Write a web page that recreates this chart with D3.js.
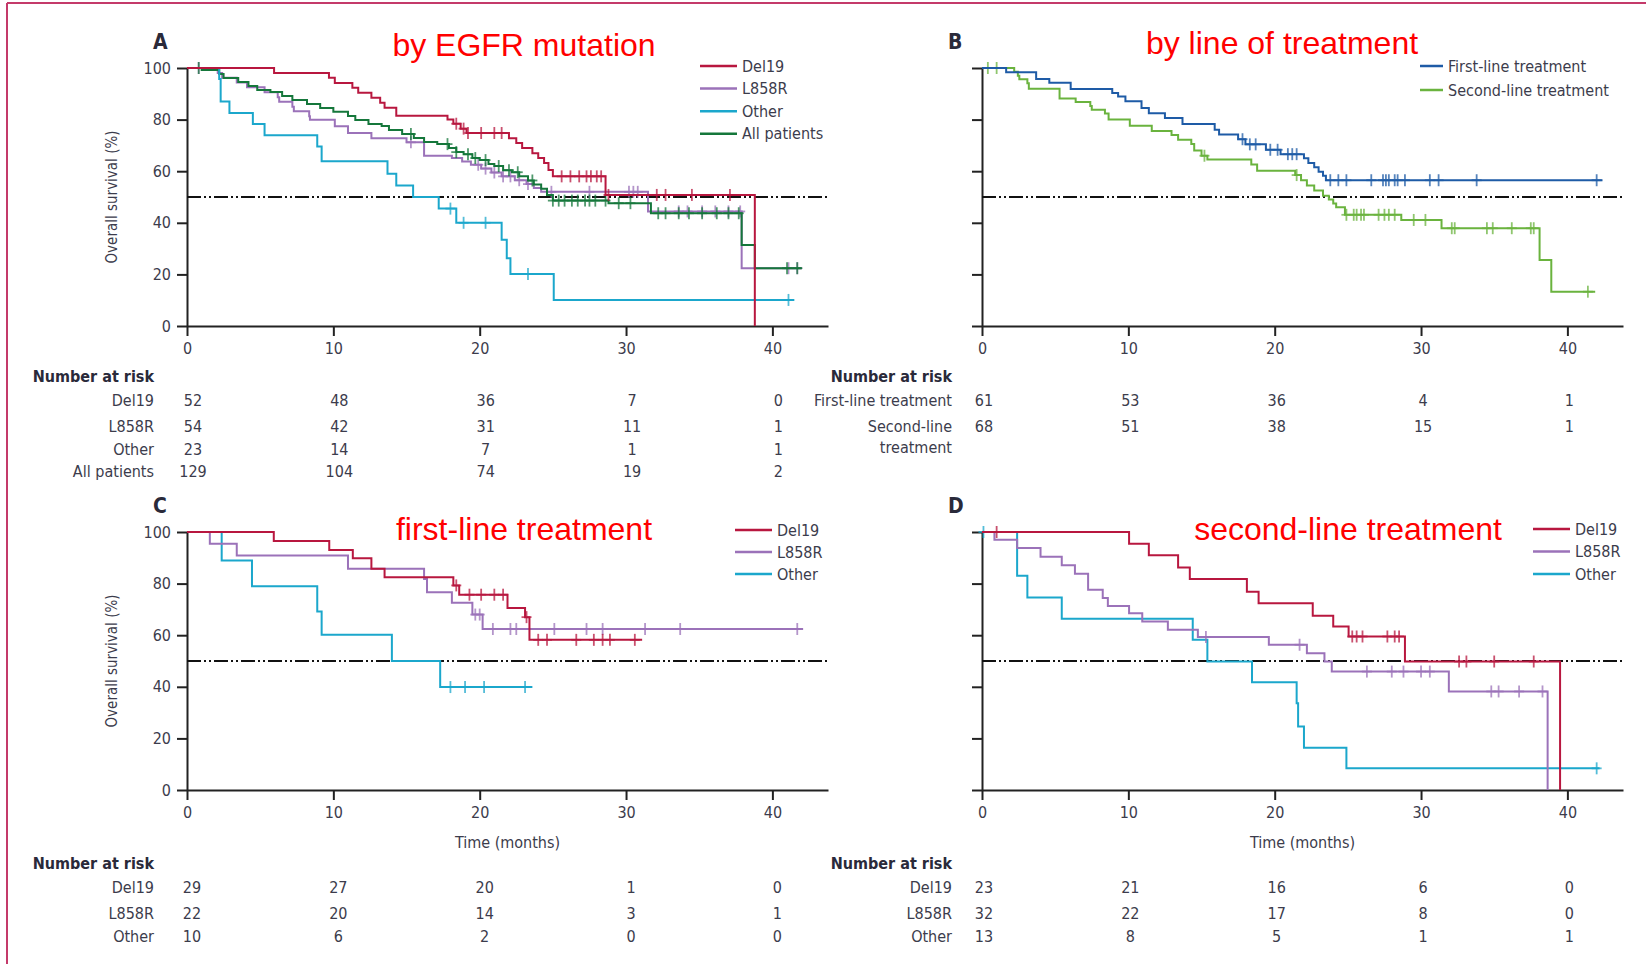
<!DOCTYPE html>
<html>
<head>
<meta charset="utf-8">
<script src="https://cdn.jsdelivr.net/npm/d3@7"></script>
<style>
  body { margin: 0; background: #fff; }
  text { font-family: "DejaVu Sans Condensed", "Liberation Sans Narrow", "DejaVu Sans", sans-serif; font-stretch: condensed; }
</style>
</head>
<body>
<div id="chart"></div>
<script>
const months = [0, 10, 20, 30, 40];
const yTicks = [0, 20, 40, 60, 80, 100];
const titles = ['by EGFR mutation', 'by line of treatment', 'first-line treatment', 'second-line treatment'];

// step data: [time (months), survival (%) after the drop]; censored times
const aDel19 = [[5.95,98.1],[9.7,96.2],[10.1,94.2],[11.3,92.3],[11.7,90.4],[12.6,88.5],[13.2,86.5],[13.5,84.6],[14.3,81.5],[17.8,80.0],[18.2,78.4],[18.7,76.5],[19.1,74.8],[22.0,72.8],[22.5,70.9],[22.9,69.0],[23.6,67.0],[24.0,65.1],[24.4,63.2],[24.7,60.5],[25.0,58.0],[28.6,50.8],[38.8,0]];
const aDel19Cens = [18.4,18.9,19.2,20.1,21.0,21.5,25.6,26.2,26.8,27.3,27.6,28.0,28.3,28.8,32.1,32.7,34.5,37.1];
const aL858R = [[2.1,98.1],[2.4,96.2],[3.4,94.4],[4.1,92.5],[5.3,90.6],[6.2,88.7],[6.3,86.9],[7.2,85.0],[7.3,83.2],[8.35,81.3],[8.4,79.9],[10.1,77.4],[11.0,74.8],[12.6,72.8],[15.0,71.2],[16.2,66.0],[18.1,65.1],[18.8,63.8],[19.4,62.5],[20.1,61.0],[20.8,59.5],[21.5,58.0],[22.4,56.5],[23.2,55.0],[23.7,53.5],[24.2,52.0],[31.5,44.4],[37.9,22.4]];
const aL858RCens = [0.8,15.3,19.9,20.4,21.0,21.6,22.1,22.7,23.3,24.9,27.5,30.2,30.5,30.8,33.6,34.2,35.2,36.1,37.0,37.8,41.1,41.7];
const aOther = [[2.2,95.7],[2.3,87.0],[2.9,82.6],[4.5,78.3],[5.3,73.9],[8.9,69.6],[9.2,63.9],[13.7,59.0],[14.3,54.5],[15.45,50.0],[17.2,45.5],[18.4,40.0],[21.5,33.4],[21.85,26.3],[22.1,20.2],[25.06,10.1]];
const aOtherCens = [18.0,18.9,20.4,23.3,41.1];
const aAll = [[1.0,99.2],[2.2,97.7],[2.5,96.1],[3.5,94.6],[4.2,93.0],[4.8,91.5],[5.7,90.7],[6.5,89.1],[7.2,87.6],[8.2,86.0],[9.1,84.5],[10.0,83.0],[11.0,81.4],[11.5,79.8],[12.4,78.3],[13.3,77.5],[13.8,76.0],[14.7,74.4],[15.5,72.9],[16.2,71.3],[17.1,70.5],[17.9,69.0],[18.4,67.4],[18.9,66.6],[19.5,65.1],[20.0,64.3],[20.6,62.8],[21.0,62.0],[21.6,60.4],[22.2,59.6],[22.7,58.0],[23.3,56.4],[23.7,54.8],[24.2,53.2],[24.6,50.8],[25.0,48.6],[28.8,47.6],[31.7,43.7],[37.9,31.4],[38.8,22.4]];
const aAllCens = [0.8,15.3,17.8,18.4,19.2,19.7,20.4,21.3,22.0,22.6,23.6,25.0,25.4,25.8,26.3,26.7,27.2,27.5,27.9,28.6,29.5,30.3,32.2,32.7,33.6,34.3,35.2,36.2,37.0,37.7,41.0,41.7];

const bFirst = [[1.65,98.4],[3.7,95.7],[4.6,94.3],[6.06,91.9],[8.9,90.3],[9.3,89.0],[9.8,87.1],[10.9,84.5],[11.4,82.5],[12.5,80.6],[13.7,78.3],[15.9,76.1],[16.2,74.2],[17.5,72.4],[18.0,70.4],[19.4,68.3],[20.4,66.6],[22.0,65.0],[22.3,63.2],[22.7,61.5],[23.0,59.8],[23.3,58.2],[23.5,56.5]];
const bFirstCens = [17.8,18.3,18.7,19.7,20.2,20.9,21.2,21.5,23.8,24.35,24.9,26.6,27.4,27.6,27.8,28.2,28.4,28.9,30.6,31.2,33.8,42.0];
const bSecond = [[2.2,98.5],[2.45,97.0],[2.55,95.6],[3.1,94.1],[3.2,92.0],[5.3,88.2],[6.4,86.8],[7.4,85.3],[7.5,83.8],[8.4,82.4],[8.65,80.0],[10.1,77.6],[11.6,75.6],[12.95,74.0],[13.4,72.2],[14.3,70.5],[14.5,68.0],[15.0,66.0],[15.4,64.5],[18.4,62.6],[18.8,60.2],[21.4,58.5],[21.8,56.5],[22.2,54.5],[22.7,52.5],[23.3,50.5],[23.7,49.0],[24.0,47.5],[24.2,46.0],[24.8,43.1],[28.65,41.1],[31.4,37.9],[38.1,25.6],[38.9,13.3]];
const bSecondCens = [0.4,1.0,15.2,21.5,24.9,25.4,25.6,25.9,26.1,27.1,27.5,27.8,28.2,29.5,30.3,32.1,32.3,34.5,34.9,36.2,37.5,37.7,41.4];

const cDel19 = [[5.93,96.5],[9.72,93.0],[11.33,89.8],[12.6,85.8],[13.5,82.5],[18.2,79.3],[18.6,75.7],[21.9,70.5],[23.1,67.0],[23.4,58.2]];
const cDel19Cens = [18.4,19.3,20.1,21.0,21.6,23.2,24.0,24.6,26.6,27.8,28.4,28.9,30.6];
const cL858R = [[1.56,95.45],[3.4,90.9],[11.0,85.8],[16.2,81.8],[16.4,76.6],[18.1,72.6],[19.5,68.0],[20.2,62.4]];
const cL858RCens = [19.7,20.0,20.9,22.1,22.5,25.1,27.3,28.4,31.3,33.7,41.7];
const cOther = [[2.37,89.0],[4.44,79.0],[8.9,69.2],[9.2,60.2],[14.0,50.0],[17.3,39.9]];
const cOtherCens = [18.0,19.0,20.3,23.1];

const dDel19 = [[10.05,95.4],[11.4,91.0],[13.4,86.2],[14.2,81.8],[18.1,76.8],[18.9,72.4],[22.6,67.5],[24.0,63.4],[25.05,59.5],[28.9,49.8],[39.5,0]];
const dDel19Cens = [1.0,25.3,25.6,26.0,27.7,28.2,28.5,32.6,33.1,35.0,37.7];
const dL858R = [[0.85,97.0],[2.4,93.8],[4.0,90.4],[5.45,87.1],[6.35,83.8],[7.25,77.6],[8.25,74.4],[8.6,71.3],[10.05,68.5],[10.95,65.3],[12.7,62.1],[14.75,59.3],[19.6,56.3],[22.2,53.0],[23.4,49.8],[23.9,45.9],[31.9,38.2],[38.65,0]];
const dL858RCens = [15.3,21.7,26.3,28.0,28.8,30.0,30.6,34.8,35.3,36.7,38.3];
const dOther = [[2.4,83.0],[3.1,74.6],[5.45,66.4],[14.4,58.2],[15.4,49.8],[18.45,41.8],[21.5,33.6],[21.6,24.6],[22.0,16.4],[24.9,8.4]];
const dOtherCens = [0.1,42.0];

// number at risk at 0, 10, 20, 30, 40 months
const riskADel19 = [52, 48, 36, 7, 0];
const riskAL858R = [54, 42, 31, 11, 1];
const riskAOther = [23, 14, 7, 1, 1];
const riskAAll = [129, 104, 74, 19, 2];
const riskBFirst = [61, 53, 36, 4, 1];
const riskBSecond = [68, 51, 38, 15, 1];
const riskCDel19 = [29, 27, 20, 1, 0];
const riskCL858R = [22, 20, 14, 3, 1];
const riskCOther = [10, 6, 2, 0, 0];
const riskDDel19 = [23, 21, 16, 6, 0];
const riskDL858R = [32, 22, 17, 8, 0];
const riskDOther = [13, 8, 5, 1, 1];

const col = { del19: '#b8173f', l858r: '#9b72b9', other: '#1ba7cc', all: '#15773b', first: '#1e5ba6', second: '#6ab33e' };
const textCol = '#3c3c4c';

const svg = d3.select('#chart').append('svg').attr('width', 1646).attr('height', 964);

// frame
svg.append('line').attr('x1', 7).attr('x2', 7).attr('y1', 3).attr('y2', 964).attr('stroke', '#c43a6a').attr('stroke-width', 2);
svg.append('line').attr('x1', 7).attr('x2', 1646).attr('y1', 3).attr('y2', 3).attr('stroke', '#c43a6a').attr('stroke-width', 2);

const panels = [
  { letter: 'A', title: titles[0], x0: 187, x1: 828, top: 68, bottom: 326, titleX: 524, titleY: 56, yLabels: true, timeLabel: false,
    curves: [
      { steps: aL858R, cens: aL858RCens, end: 42.0, color: col.l858r },
      { steps: aAll, cens: aAllCens, end: 42.0, color: col.all },
      { steps: aOther, cens: aOtherCens, end: 41.5, color: col.other },
      { steps: aDel19, cens: aDel19Cens, end: 38.8, color: col.del19 } ],
    legend: [['Del19', col.del19], ['L858R', col.l858r], ['Other', col.other], ['All patients', col.all]],
    legX: 700, legY: 66, legLen: 37, legGap: 22.6,
    riskRight: 154, riskHead: 376, riskOff: 6,
    risk: [['Del19', riskADel19, 400], ['L858R', riskAL858R, 426], ['Other', riskAOther, 449], ['All patients', riskAAll, 471]] },
  { letter: 'B', title: titles[1], x0: 982, x1: 1623, top: 68, bottom: 326, titleX: 1282, titleY: 54, yLabels: false, timeLabel: false,
    curves: [
      { steps: bSecond, cens: bSecondCens, end: 41.9, color: col.second },
      { steps: bFirst, cens: bFirstCens, end: 42.4, color: col.first } ],
    legend: [['First-line treatment', col.first], ['Second-line treatment', col.second]],
    legX: 1420, legY: 66, legLen: 23, legGap: 24,
    riskRight: 952, riskHead: 376, riskOff: 2,
    risk: [['First-line treatment', riskBFirst, 400], ['Second-line', riskBSecond, 426], ['treatment', null, 447]] },
  { letter: 'C', title: titles[2], x0: 187, x1: 828, top: 532, bottom: 790, titleX: 524, titleY: 540, yLabels: true, timeLabel: true,
    curves: [
      { steps: cOther, cens: cOtherCens, end: 23.6, color: col.other },
      { steps: cL858R, cens: cL858RCens, end: 42.1, color: col.l858r },
      { steps: cDel19, cens: cDel19Cens, end: 31.1, color: col.del19 } ],
    legend: [['Del19', col.del19], ['L858R', col.l858r], ['Other', col.other]],
    legX: 735, legY: 530, legLen: 37, legGap: 22,
    riskRight: 154, riskHead: 863, riskOff: 5,
    risk: [['Del19', riskCDel19, 887], ['L858R', riskCL858R, 913], ['Other', riskCOther, 936]] },
  { letter: 'D', title: titles[3], x0: 982, x1: 1623, top: 532, bottom: 790, titleX: 1348, titleY: 540, yLabels: false, timeLabel: true,
    curves: [
      { steps: dOther, cens: dOtherCens, end: 42.2, color: col.other },
      { steps: dL858R, cens: dL858RCens, end: 38.65, color: col.l858r },
      { steps: dDel19, cens: dDel19Cens, end: 39.5, color: col.del19 } ],
    legend: [['Del19', col.del19], ['L858R', col.l858r], ['Other', col.other]],
    legX: 1533, legY: 529, legLen: 37, legGap: 22.5,
    riskRight: 952, riskHead: 863, riskOff: 2,
    risk: [['Del19', riskDDel19, 887], ['L858R', riskDL858R, 913], ['Other', riskDOther, 936]] }
];

function survAt(steps, t) {
  let s = 100;
  steps.forEach((d) => { if (d[0] <= t) s = d[1]; });
  return s;
}

panels.forEach((p) => {
  const x = d3.scaleLinear().domain([0, 43.8]).range([p.x0, p.x1]);
  const y = d3.scaleLinear().domain([0, 100]).range([p.bottom, p.top]);
  const g = svg.append('g');

  // axes
  const yAxis = d3.axisLeft(y).tickValues(yTicks).tickSize(10).tickSizeOuter(0).tickPadding(6)
    .tickFormat((d) => p.yLabels ? d : '');
  const ya = g.append('g').attr('transform', `translate(${p.x0},0)`).call(yAxis);
  const xAxis = d3.axisBottom(x).tickValues(months).tickSize(10).tickSizeOuter(0).tickPadding(7);
  const xa = g.append('g').attr('transform', `translate(0,${p.bottom})`).call(xAxis);
  [ya, xa].forEach((a) => {
    a.selectAll('path, line').attr('stroke', '#222').attr('stroke-width', 2);
    a.selectAll('text').attr('font-size', 16).attr('fill', textCol)
      .style('font-family', '"DejaVu Sans Condensed", "Liberation Sans Narrow", sans-serif');
  });

  // median line
  g.append('line').attr('x1', x(0)).attr('x2', p.x1).attr('y1', y(50)).attr('y2', y(50))
    .attr('stroke', '#111').attr('stroke-width', 2).attr('stroke-dasharray', '14,3,2,3,2,3');

  // curves
  p.curves.forEach((c) => {
    const pts = [[0, 100]];
    let s = 100;
    c.steps.forEach((d) => { pts.push([d[0], s]); pts.push([d[0], d[1]]); s = d[1]; });
    if (s > 0) pts.push([c.end, s]);
    g.append('path').attr('d', d3.line().x((d) => x(d[0])).y((d) => y(d[1]))(pts))
      .attr('fill', 'none').attr('stroke', c.color).attr('stroke-width', 2);
    const marks = g.append('g').attr('stroke', c.color).attr('stroke-width', 1.8).attr('opacity', 0.75);
    c.cens.forEach((t) => {
      const cx = x(t), cy = y(survAt(c.steps, t));
      marks.append('line').attr('x1', cx).attr('x2', cx).attr('y1', cy - 6).attr('y2', cy + 6);
      marks.append('line').attr('x1', cx - 5).attr('x2', cx + 5).attr('y1', cy).attr('y2', cy);
    });
  });

  // legend
  p.legend.forEach((d, i) => {
    const ly = p.legY + i * p.legGap;
    g.append('line').attr('x1', p.legX).attr('x2', p.legX + p.legLen).attr('y1', ly).attr('y2', ly)
      .attr('stroke', d[1]).attr('stroke-width', 2.5);
    g.append('text').attr('x', p.legX + p.legLen + 5).attr('y', ly).attr('dy', '0.35em')
      .attr('font-size', 16).attr('fill', textCol).text(d[0]);
  });

  // title and panel letter
  g.append('text').attr('x', p.titleX).attr('y', p.titleY).attr('text-anchor', 'middle')
    .style('font-family', '"Liberation Sans", Arial, sans-serif').style('font-stretch', 'normal')
    .attr('font-size', 32).attr('fill', '#ff0000').text(p.title);
  g.append('text').attr('x', p.x0 - 34).attr('y', p.top - 26).attr('dy', '0.35em')
    .attr('font-size', 21).attr('font-weight', 'bold').attr('fill', '#2a2a3a').text(p.letter);

  if (p.yLabels) {
    g.append('text').attr('transform', `translate(112,${(p.top + p.bottom) / 2}) rotate(-90)`)
      .attr('text-anchor', 'middle').attr('dy', '0.35em').attr('font-size', 15).attr('fill', textCol)
      .text('Overall survival (%)');
  }
  if (p.timeLabel) {
    g.append('text').attr('x', (p.x0 + p.x1) / 2).attr('y', p.bottom + 52).attr('dy', '0.35em')
      .attr('text-anchor', 'middle').attr('font-size', 16).attr('fill', textCol).text('Time (months)');
  }

  // number at risk table
  g.append('text').attr('x', p.riskRight).attr('y', p.riskHead).attr('dy', '0.35em').attr('text-anchor', 'end')
    .attr('font-size', 16).attr('font-weight', 'bold').attr('fill', '#2a2a3a').text('Number at risk');
  p.risk.forEach((r) => {
    g.append('text').attr('x', p.riskRight).attr('y', r[2]).attr('dy', '0.35em').attr('text-anchor', 'end')
      .attr('font-size', 16).attr('fill', textCol).text(r[0]);
    if (r[1]) {
      r[1].forEach((v, i) => {
        g.append('text').attr('x', x(months[i]) + p.riskOff).attr('y', r[2]).attr('dy', '0.35em')
          .attr('text-anchor', 'middle').attr('font-size', 16).attr('fill', textCol).text(v);
      });
    }
  });
});
</script>
</body>
</html>
